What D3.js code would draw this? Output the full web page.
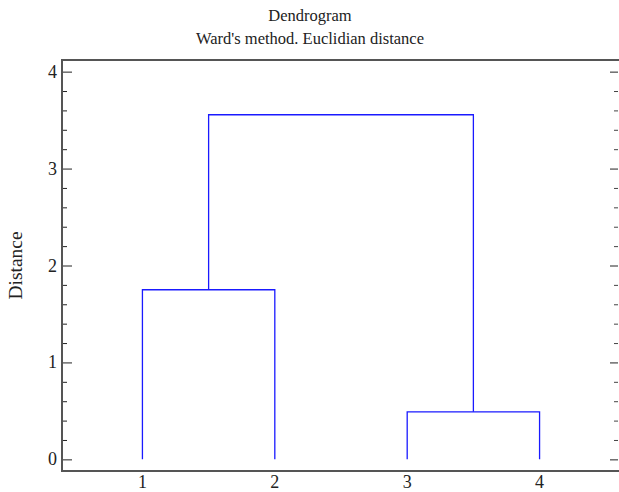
<!DOCTYPE html>
<html>
<head>
<meta charset="utf-8">
<script src="https://cdn.jsdelivr.net/npm/d3@7"></script>
<style>
  body { margin: 0; background: #fff; }
  text { font-family: "Liberation Serif", "DejaVu Serif", serif; fill: #222; }
</style>
</head>
<body>
<div id="chart"></div>
<script>
// leaves and merge steps (left member, right member, height)
const leaves = [1, 2, 3, 4];
const mergeLeft = ["1", "3", "c1"];
const mergeRight = ["2", "4", "c2"];
const mergeHeight = [1.75, 0.49, 3.555];
const yTicks = [0, 1, 2, 3, 4];

const W = 619, H = 492;
const margin = {top: 60, right: 0, bottom: 21, left: 62};
const fs = "18px";

const svg = d3.select("#chart")
  .append("svg")
    .attr("width", W)
    .attr("height", H);

const x = d3.scaleLinear()
  .domain([0.4, 4.6])
  .range([margin.left + 1, W - margin.right]);

const y = d3.scaleLinear()
  .domain([-0.12, 4.12])
  .range([H - margin.bottom, margin.top]);

// titles
svg.append("text")
  .attr("x", 310).attr("y", 21)
  .attr("text-anchor", "middle")
  .style("font-size", "16.5px")
  .text("Dendrogram");
svg.append("text")
  .attr("x", 310).attr("y", 44)
  .attr("text-anchor", "middle")
  .style("font-size", "16.5px")
  .text("Ward's method. Euclidian distance");

// y label
svg.append("text")
  .attr("transform", "translate(22," + y(2) + ") rotate(-90)")
  .attr("text-anchor", "middle")
  .style("font-size", "19.5px")
  .text("Distance");

// minor ticks every 0.2
const minor = d3.range(0, 4.01, 0.2).filter(v => Math.abs(v - Math.round(v)) > 0.01);

// left axis
svg.append("g")
  .attr("transform", "translate(" + margin.left + ",0)")
  .call(d3.axisRight(y).tickValues(yTicks).tickSize(10).tickFormat(""))
  .call(g => g.select(".domain").remove())
  .selectAll("line").attr("stroke", "#222");
svg.append("g")
  .attr("transform", "translate(" + margin.left + ",0)")
  .call(d3.axisRight(y).tickValues(minor).tickSize(5).tickFormat(""))
  .call(g => g.select(".domain").remove())
  .selectAll("line").attr("stroke", "#222");

// left labels
svg.selectAll(".ylab")
  .data(yTicks)
  .enter()
  .append("text")
    .attr("x", margin.left - 5)
    .attr("y", d => y(d) + 6)
    .attr("text-anchor", "end")
    .style("font-size", fs)
    .text(d => d);

// right axis ticks
const xr = W - margin.right - 1;
svg.append("g")
  .attr("transform", "translate(" + xr + ",0)")
  .call(d3.axisLeft(y).tickValues(yTicks).tickSize(8).tickFormat(""))
  .call(g => g.select(".domain").remove())
  .selectAll("line").attr("stroke", "#222");
svg.append("g")
  .attr("transform", "translate(" + xr + ",0)")
  .call(d3.axisLeft(y).tickValues(minor).tickSize(4).tickFormat(""))
  .call(g => g.select(".domain").remove())
  .selectAll("line").attr("stroke", "#444");

// frame lines (top, left, bottom)
svg.append("path")
  .attr("d", "M" + (W + 2) + "," + y.range()[1] + "H" + margin.left + "V" + y.range()[0] + "H" + (W + 2))
  .attr("fill", "none")
  .attr("stroke", "#555")
  .attr("stroke-width", 2);

// bottom labels
svg.selectAll(".xlab")
  .data(leaves)
  .enter()
  .append("text")
    .attr("x", d => x(d))
    .attr("y", y.range()[0] + 17)
    .attr("text-anchor", "middle")
    .style("font-size", fs)
    .text(d => d);

// build dendrogram segments
const pos = {};
leaves.forEach(l => { pos[String(l)] = {x: x(l), h: 0}; });
const segs = [];
mergeLeft.forEach((a, i) => {
  const b = mergeRight[i], h = mergeHeight[i];
  const pa = pos[a], pb = pos[b];
  segs.push([pa.x, y(pa.h), pa.x, y(h), pb.x, y(h), pb.x, y(pb.h)]);
  pos["c" + (i + 1)] = {x: (pa.x + pb.x) / 2, h: h};
});

svg.append("g")
  .selectAll("path")
  .data(segs)
  .enter()
  .append("path")
    .attr("d", s => "M" + s[0] + "," + s[1] + "V" + s[3] + "H" + s[4] + "V" + s[7])
    .attr("fill", "none")
    .attr("stroke", "#1a1aff")
    .attr("stroke-width", 1.3);
</script>
</body>
</html>
